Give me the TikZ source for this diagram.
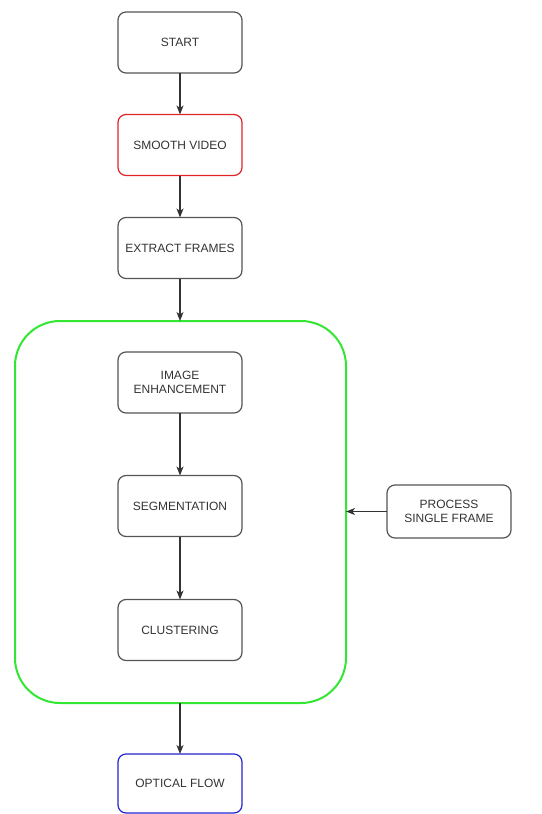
\documentclass[tikz,border=0pt]{standalone}
\usepackage{fontspec}
\setmainfont{Liberation Sans}
\usetikzlibrary{arrows.meta}
\definecolor{txt}{HTML}{333333}
\definecolor{edge}{HTML}{555555}
\definecolor{grn}{HTML}{33E633}
\definecolor{redc}{HTML}{E0242A}
\definecolor{bluec}{HTML}{2424D4}
\tikzset{
  stepbox/.style={draw=edge, line width=1.2pt, rounded corners=8pt, minimum width=124pt,
    minimum height=61pt, inner sep=0pt, outer sep=0pt, align=center, text=txt,
    font=\fontsize{12pt}{14pt}\selectfont},
  conn/.style={draw=black!80, line width=1.1pt, -{Stealth[length=9pt,width=7pt,inset=2.5pt]}},
}
\begin{document}
\begin{tikzpicture}[x=1pt,y=-1pt]
\useasboundingbox (0,0) rectangle (541,814);
\node[draw=grn, line width=2pt, rounded corners=45pt, minimum width=331pt, minimum height=382pt, inner sep=0pt, outer sep=0pt] (group) at (180.5,512) {};
\node[stepbox] (start) at (180,42.5) {START};
\node[stepbox, draw=redc] (smooth) at (180,145) {SMOOTH VIDEO};
\node[stepbox] (extract) at (180,248) {EXTRACT FRAMES};
\node[stepbox] (enh) at (180,382.5) {IMAGE\\ENHANCEMENT};
\node[stepbox] (seg) at (180,506) {SEGMENTATION};
\node[stepbox] (clu) at (180,630) {CLUSTERING};
\node[stepbox, minimum height=53pt] (proc) at (449,511.5) {PROCESS\\SINGLE FRAME};
\node[stepbox, draw=bluec, minimum height=59pt] (flow) at (180,783.5) {OPTICAL FLOW};
\draw[conn] (start) -- (smooth);
\draw[conn] (smooth) -- (extract);
\draw[conn] (extract.south) -- (extract.south |- group.north);
\draw[conn] (enh) -- (seg);
\draw[conn] (seg) -- (clu);
\draw[conn] (proc.west) -- (group.east |- proc.west);
\draw[conn] (flow.north |- group.south) -- (flow.north);
\end{tikzpicture}
\end{document}
